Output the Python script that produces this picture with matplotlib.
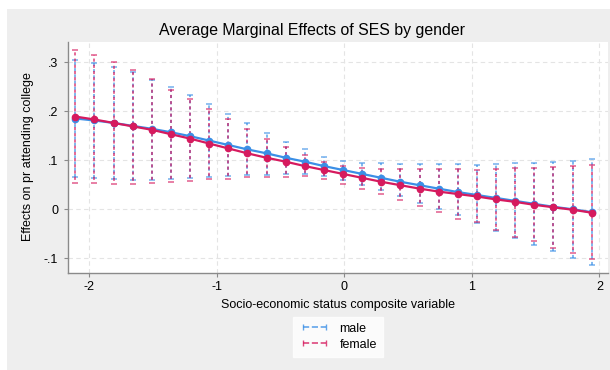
import matplotlib
matplotlib.use('Agg')
from matplotlib import pyplot as plt
from matplotlib.lines import Line2D
from matplotlib.patches import Rectangle

plt.rcParams['font.family'] = ['Liberation Sans', 'DejaVu Sans']

# SES values at which the margins were evaluated
ses = [-2.11, -1.96, -1.81, -1.66, -1.51, -1.36, -1.21, -1.06, -0.91, -0.76,
       -0.61, -0.46, -0.31, -0.16, -0.01, 0.14, 0.29, 0.44, 0.59, 0.74,
       0.89, 1.04, 1.19, 1.34, 1.49, 1.64, 1.79, 1.94]

# average marginal effects with 95% CI, males
male_me = [0.185, 0.181, 0.176, 0.170, 0.164, 0.157, 0.149, 0.140, 0.131, 0.122,
           0.114, 0.105, 0.097, 0.088, 0.080, 0.072, 0.064, 0.056, 0.049, 0.042,
           0.035, 0.029, 0.023, 0.017, 0.011, 0.005, 0.000, -0.006]
male_lo = [0.065, 0.063, 0.061, 0.060, 0.060, 0.061, 0.063, 0.065, 0.067, 0.069,
           0.070, 0.071, 0.071, 0.067, 0.059, 0.050, 0.039, 0.026, 0.013, 0.001,
           -0.012, -0.029, -0.045, -0.059, -0.073, -0.086, -0.100, -0.114]
male_hi = [0.305, 0.299, 0.291, 0.279, 0.264, 0.249, 0.233, 0.214, 0.194, 0.175,
           0.156, 0.137, 0.122, 0.107, 0.099, 0.095, 0.094, 0.092, 0.092, 0.092,
           0.092, 0.091, 0.092, 0.094, 0.095, 0.097, 0.099, 0.102]

# same for females
female_me = [0.189, 0.183, 0.176, 0.169, 0.162, 0.153, 0.144, 0.134, 0.124, 0.114,
             0.105, 0.097, 0.088, 0.080, 0.072, 0.064, 0.056, 0.049, 0.042, 0.036,
             0.031, 0.026, 0.020, 0.015, 0.009, 0.004, -0.001, -0.007]
female_lo = [0.054, 0.054, 0.052, 0.052, 0.054, 0.056, 0.058, 0.061, 0.062, 0.065,
             0.066, 0.066, 0.067, 0.061, 0.052, 0.042, 0.031, 0.018, 0.007, -0.006,
             -0.019, -0.027, -0.042, -0.056, -0.065, -0.080, -0.089, -0.102]
female_hi = [0.324, 0.315, 0.301, 0.284, 0.266, 0.243, 0.224, 0.204, 0.184, 0.163,
             0.144, 0.126, 0.110, 0.097, 0.089, 0.084, 0.083, 0.082, 0.082, 0.082,
             0.082, 0.080, 0.082, 0.084, 0.085, 0.086, 0.088, 0.090]

yticks = [-0.1, 0, 0.1, 0.2, 0.3]
ytick_labels = ['-.1', '0', '.1', '.2', '.3']
xticks = [-2, -1, 0, 1, 2]

blue = '#3b8fe6'
pink = '#d61a5e'
W, H = 610, 370

fig = plt.figure(figsize=(W / 100, H / 100), dpi=100)
fig.patches.append(Rectangle((7 / W, 0), 1, 361 / H, transform=fig.transFigure,
                             facecolor='#eeeeee', edgecolor='none', zorder=-1))
ax = fig.add_axes([68 / W, 97 / H, 540 / W, 231 / H])
ax.set_facecolor('white')

series = [(male_me, male_lo, male_hi, blue, 0),
          (female_me, female_lo, female_hi, pink, 1.6)]
for me, lo, hi, col, off in series:
    yerr = [[m - l for m, l in zip(me, lo)], [h - m for m, h in zip(me, hi)]]
    eb = ax.errorbar(ses, me, yerr=yerr, fmt='none', ecolor=col, elinewidth=1.4,
                     capsize=2, capthick=1.2, alpha=0.65, zorder=3)
    eb[2][0].set_linestyle((off, (1.6, 1.6)))

for me, lo, hi, col, off in series:
    ax.plot(ses, me, color=col, lw=1.6, marker='o', ms=4.5, zorder=4)

ax.set_xlim(-2.167, 2.068)
ax.set_ylim(-0.13, 0.341)
ax.set_xticks(xticks)
ax.set_xticklabels([str(t) for t in xticks])
ax.set_yticks(yticks)
ax.set_yticklabels(ytick_labels)
ax.grid(True, color='#e4e4e4', ls=(0, (4, 3)), lw=0.8, zorder=0)
ax.set_axisbelow(True)

for s in ['top', 'right']:
    ax.spines[s].set_visible(False)
for s in ['left', 'bottom']:
    ax.spines[s].set_color('#8a8a8a')
    ax.spines[s].set_linewidth(1)
ax.tick_params(axis='both', labelsize=9, length=3, color='#8a8a8a', pad=3)
ax.tick_params(axis='y', pad=4)

fig.text(312 / W, 1 - 31 / H, 'Average Marginal Effects of SES by gender',
         ha='center', va='center', fontsize=11.4)
fig.text(28 / W, 1 - 157 / H, 'Effects on pr attending college', rotation=90,
         ha='center', va='center', fontsize=9)
fig.text(338 / W, 1 - 305 / H, 'Socio-economic status composite variable',
         ha='center', va='center', fontsize=9)

handles = [Line2D([], [], color=blue, ls='--', marker='|', ms=4, lw=1.2, alpha=0.8),
           Line2D([], [], color=pink, ls='--', marker='|', ms=4, lw=1.2, alpha=0.8)]
leg = fig.legend(handles, ['male', 'female'], loc='lower center',
                 bbox_to_anchor=(338 / W, 7 / H), numpoints=2, fontsize=9,
                 handlelength=2.4, frameon=True, fancybox=False,
                 borderpad=0.5, labelspacing=0.3)
leg.get_frame().set_facecolor('white')
leg.get_frame().set_edgecolor('white')

fig.savefig('out.png', dpi=100)
